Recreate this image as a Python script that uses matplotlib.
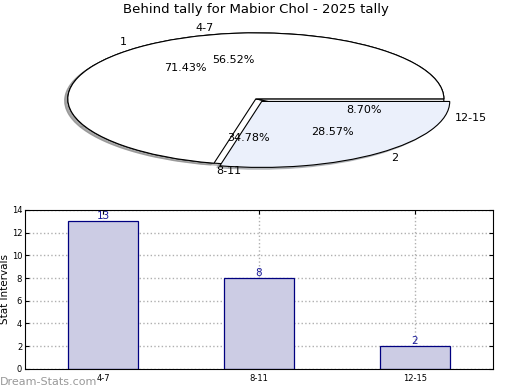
import matplotlib
matplotlib.use('Agg')
import matplotlib.pyplot as plt

# data
title = 'Behind tally for Mabior Chol - 2025 tally'
range_labels = ['4-7', '8-11', '12-15']
range_counts = [13, 8, 2]
group_labels = ['1', '2']
group_counts = [5, 2]

fig = plt.figure(figsize=(5.2, 3.9), dpi=100)

# top: two squashed pies drawn over each other
shade = {'ox': -0.012, 'oy': -0.02, 'shade': 0.45}
ax1 = fig.add_axes([0.040, 0.535, 0.904, 0.423])
ax1.pie(range_counts, labels=range_labels, autopct='%1.2f%%', startangle=0,
        colors=['white', 'white', 'white'], shadow=shade,
        wedgeprops=dict(edgecolor='black', linewidth=0.8),
        textprops=dict(fontsize=8))
ax1.pie(group_counts, labels=group_labels, autopct='%1.2f%%', startangle=0,
        colors=['white', '#ebf0fb'], explode=[0, 0.05], shadow=shade,
        wedgeprops=dict(edgecolor='black', linewidth=0.8),
        textprops=dict(fontsize=8))
ax1.set_aspect('auto')
ax1.set_xlim(-1.25, 1.25)
ax1.set_ylim(-1.25, 1.25)
ax1.set_title(title, fontsize=9.5, pad=1)

# bottom: bar chart of the same ranges
ax2 = fig.add_axes([0.048, 0.054, 0.900, 0.408])
xs = range(len(range_labels))
bars = ax2.bar(xs, range_counts, width=0.45, color='#ccccE4',
               edgecolor='navy', linewidth=0.9, zorder=2)
for b, v in zip(bars, range_counts):
    ax2.text(b.get_x() + b.get_width() / 2, v, str(v), ha='center', va='bottom',
             color='#1a1a99', fontsize=7.5, zorder=3)
ax2.set_xlim(-0.5, 2.5)
ax2.set_ylim(0, 14)
ax2.set_yticks(range(0, 15, 2))
ax2.set_xticks(list(xs))
ax2.set_xticklabels(range_labels)
ax2.tick_params(labelsize=6, direction='in', right=True, top=True, length=3)
ax2.tick_params(axis='y', pad=2)
ax2.grid(True, linestyle=':', color='#b0b0b0', linewidth=1, zorder=0)
ax2.set_ylabel('Stat Intervals', fontsize=7.5)
ax2.yaxis.set_label_coords(-0.031, 0.5)

fig.text(0.0, 0.012, 'Dream-Stats.com', color='#999999', fontsize=8)

fig.savefig('out.png', dpi=100)
